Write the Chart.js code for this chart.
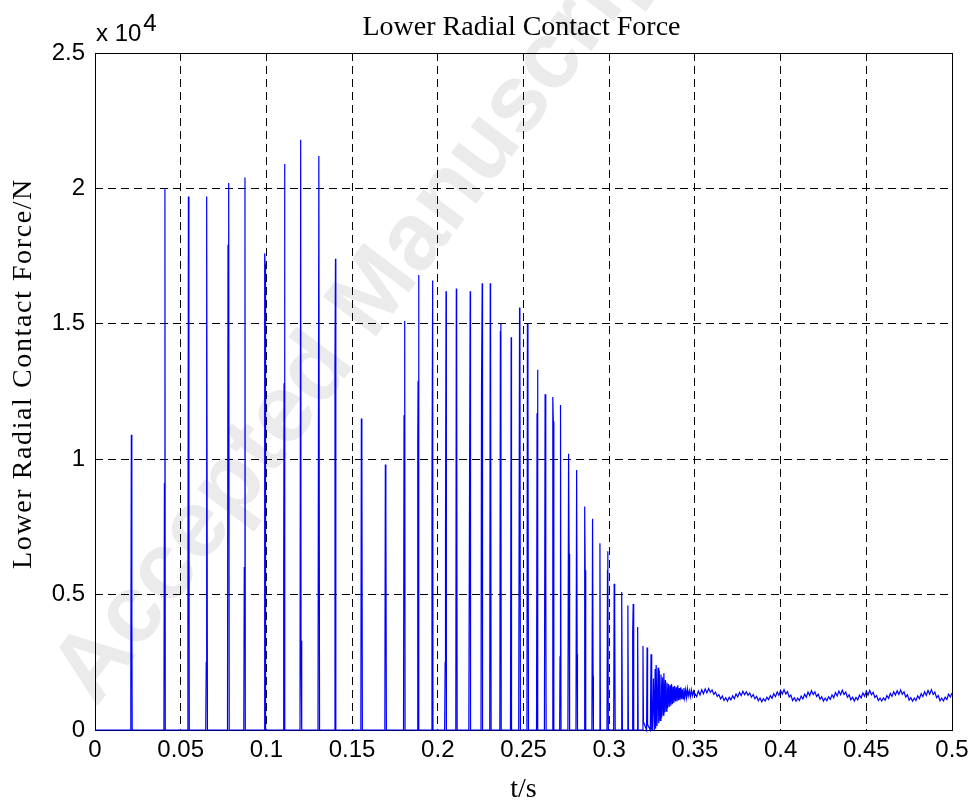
<!DOCTYPE html>
<html><head><meta charset="utf-8">
<script src="https://cdn.jsdelivr.net/npm/chart.js@4.4.1/dist/chart.umd.min.js"></script>
<style>html,body{margin:0;padding:0;background:#fff;}#wrap{width:975px;height:803px;}</style>
</head><body><div id="wrap"><canvas id="c" width="975" height="803"></canvas></div>
<script>
const chartTitle = 'Lower Radial Contact Force';
const xAxisTitle = 't/s';
const yAxisTitle = 'Lower Radial Contact Force/N';
const yScaleNote = 'x 10';
const yScaleExp = '4';
const watermarkText = 'Accepted Manuscript';
const xTickValues = [0,0.05,0.1,0.15,0.2,0.25,0.3,0.35,0.4,0.45,0.5];
const xTickLabels = ['0','0.05','0.1','0.15','0.2','0.25','0.3','0.35','0.4','0.45','0.5'];
const yTickValues = [0,5000,10000,15000,20000,25000];
const yTickLabels = ['0','0.5','1','1.5','2','2.5'];

// impact spikes (time s, force N)
const spikeTime = [0,
 0.0205,0.0208,0.0210,0.0212,0.0215,0.0217,
 0.0402,0.0405,0.0408,0.0410,
 0.0539,0.0542,0.0545,0.0548,0.0550,
 0.0646,0.0649,0.0650,0.0653,0.0656,
 0.0773,0.0776,0.0780,0.0783,
 0.0868,0.0871,0.0875,0.0877,
 0.0987,0.0990,0.0993,0.0995,
 0.1099,0.1101,0.1103,0.1106,0.1108,
 0.1196,0.1200,0.1202,0.1205,0.1207,
 0.1301,0.1306,0.1310,
 0.1397,0.1400,0.1403,0.1405,
 0.1551,0.1554,0.1557,0.1560,
 0.1691,0.1694,0.1697,0.1700,
 0.1800,0.1803,0.1807,0.1809,
 0.1880,0.1883,0.1885,0.1888,0.1890,
 0.1963,0.1966,0.1970,0.1972,
 0.2040,0.2043,0.2045,0.2048,0.2050,
 0.2105,0.2108,0.2110,0.2113,
 0.2181,0.2185,0.2189,0.2191,
 0.2252,0.2255,0.2259,0.2261,
 0.2303,0.2306,0.2308,0.2311,
 0.2362,0.2365,0.2368,0.2370,
 0.2424,0.2428,0.2430,
 0.2472,0.2477,0.2479,0.2482,
 0.2520,0.2523,0.2526,0.2529,
 0.2576,0.2579,0.2582,0.2584,
 0.2622,0.2626,0.2630,0.2632,
 0.2667,0.2671,0.2674,0.2677,
 0.2711,0.2713,0.2716,0.2719,
 0.2759,0.2763,0.2766,0.2769,
 0.2806,0.2810,0.2813,0.2815,
 0.2853,0.2857,0.2860,0.2863,
 0.2899,0.2903,0.2906,0.2908,
 0.2942,0.2946,0.2949,
 0.2987,0.2990,0.2992,0.2995,
 0.3026,0.3029,0.3032,0.3035,
 0.3069,0.3072,0.3074,0.3077,
 0.3106,0.3109,0.3112,
 0.3135,0.3137,0.3140,0.3143,
 0.3163,0.3166,0.3169,
 0.3194,0.3197,0.3200,
 0.3218,0.3221,0.3224,
 0.3240,0.3244,0.3248];
const spikeForce = [0,
 0,2000,2000,10900,4200,0,
 0,9100,20000,0,
 0,4100,19700,9300,0,
 0,2500,5200,19700,0,
 0,17900,20200,0,
 0,6000,20400,0,
 0,17600,17200,0,
 0,6300,12800,20900,0,
 0,21800,3300,3300,0,
 0,21200,0,
 0,13400,17400,0,
 0,11500,10100,0,
 0,9800,8200,0,
 0,11600,15100,0,
 0,10700,12900,16800,0,
 0,9200,16600,0,
 0,2500,7100,16200,0,
 0,16300,14200,0,
 0,8600,16200,0,
 0,12600,16500,0,
 0,16500,15200,0,
 0,14700,15000,0,
 0,14500,0,
 0,15600,14900,0,
 0,15000,12400,0,
 0,11700,13300,0,
 0,12400,5600,0,
 0,12300,11400,0,
 0,2700,12000,0,
 0,10200,6500,0,
 0,9600,2800,0,
 0,8250,5900,0,
 0,7800,2000,0,
 0,6900,0,
 0,5900,6600,0,
 0,5400,4400,0,
 0,3800,5100,0,
 0,4600,0,
 0,3600,4650,0,
 0,3800,0,
 0,3100,300,
 0,3050,200,
 0,2800,0];

// damped ringing after the last impacts
const ringTime = [0.3252,0.3258,0.3263,0.3268,0.3271,0.3274,0.3279,0.3285,0.3289,0.3292,
 0.3297,0.3302,0.3306,0.3311,0.3315,0.3319,0.3323,0.3328,0.3332,0.3337,
 0.3341,0.3346,0.3350,0.3355,0.3359,0.3364,0.3368,0.3373,0.3377,0.3382,
 0.3386,0.3391,0.3395,0.3400,0.3404,0.3409,0.3413,0.3418,0.3422,0.3427,
 0.3431,0.3436,0.3441,0.3446,0.3451,0.3456,0.3461,0.3467,0.3473,0.3479,
 0.3485,0.3491,0.3497];
const ringForce = [0,1900,0,2250,50,2400,150,2300,250,2200,
 350,2050,450,1950,550,2100,650,1850,700,1750,
 800,1700,850,1650,900,1700,950,1600,1000,1620,
 1050,1580,1050,1650,1100,1550,1100,1580,1150,1500,
 1150,1550,1200,1480,1200,1520,1250,1450,1220,1480,
 1260,1430,1280];

// steady-state contact force, sampled every 1 ms from 0.35 s
const steadyStart = 0.35;
const steadyStep = 0.001;
const steadyForce = [
 1350,1230,1440,1290,1490,1340,1520,1370,1530,1390,
 1480,1320,1400,1240,1310,1150,1250,1090,1190,1070,
 1210,1110,1260,1160,1330,1220,1390,1270,1430,1300,
 1410,1280,1370,1210,1310,1150,1240,1080,1180,1040,
 1160,1070,1210,1120,1270,1170,1340,1230,1400,1280,
 1460,1320,1490,1330,1420,1220,1290,1090,1190,1060,
 1180,1090,1250,1150,1320,1210,1400,1270,1450,1310,
 1410,1240,1320,1140,1230,1070,1180,1080,1230,1130,
 1300,1190,1380,1260,1440,1300,1470,1310,1400,1210,
 1300,1110,1210,1070,1200,1110,1290,1190,1370,1250,
 1430,1290,1460,1300,1390,1200,1270,1090,1180,1070,
 1190,1100,1270,1170,1350,1240,1410,1290,1450,1310,
 1480,1320,1410,1220,1300,1100,1190,1060,1180,1090,
 1260,1160,1340,1230,1410,1280,1460,1320,1490,1310,
 1400,1190,1270,1080,1180,1070,1210,1130,1320,1220,
 1370];

const points = [];
spikeTime.forEach((t,i)=>points.push({x:t,y:spikeForce[i]}));
ringTime.forEach((t,i)=>points.push({x:t,y:ringForce[i]}));
steadyForce.forEach((f,i)=>points.push({x:+(steadyStart+i*steadyStep).toFixed(4),y:f}));

const decor = {
  id:'decor',
  beforeDraw(chart){
    const ctx = chart.ctx;
    ctx.save();
    ctx.fillStyle = '#fff';
    ctx.fillRect(0,0,chart.width,chart.height);
    ctx.translate(96,708);
    ctx.rotate(-53*Math.PI/180);
    ctx.font = 'bold 96px "Liberation Sans"';
    ctx.fillStyle = '#ebebeb';
    ctx.textAlign = 'left';
    ctx.textBaseline = 'alphabetic';
    ctx.fillText(watermarkText,0,0);
    ctx.restore();
  },
  beforeDatasetsDraw(chart){
    const {ctx, chartArea:a} = chart;
    ctx.save();
    ctx.strokeStyle = '#000';
    ctx.lineWidth = 1;
    ctx.setLineDash([]);
    const l = Math.round(a.left)+0.5, t = Math.round(a.top)+0.5;
    ctx.strokeRect(l, t, Math.round(a.right)-Math.round(a.left), Math.round(a.bottom)-Math.round(a.top));
    ctx.restore();
  },
  afterDraw(chart){
    const {ctx, chartArea:a} = chart;
    const cx = (a.left+a.right)/2;
    ctx.save();
    ctx.fillStyle = '#000';
    ctx.font = '28px "Liberation Serif"';
    ctx.textAlign = 'center';
    ctx.textBaseline = 'alphabetic';
    ctx.fillText(chartTitle, cx-2, 35);
    ctx.fillText(xAxisTitle, cx, 797);
    ctx.save();
    ctx.translate(31,(a.top+a.bottom)/2 - 18);
    ctx.rotate(-Math.PI/2);
    ctx.letterSpacing = '1.6px';
    ctx.fillText(yAxisTitle,0,0);
    ctx.restore();
    ctx.font = '24px "Liberation Sans"';
    ctx.textAlign = 'left';
    ctx.fillText(yScaleNote, a.left + 1, 41);
    const w = ctx.measureText(yScaleNote).width;
    ctx.fillText(yScaleExp, a.left + w + 3, 31);
    ctx.restore();
  }
};

new Chart(document.getElementById('c').getContext('2d'), {
  type:'line',
  data:{datasets:[{data:points, borderColor:'#0000ff', borderWidth:1.2, pointRadius:0, fill:false, tension:0, clip:false}]},
  options:{
    responsive:false, animation:false, devicePixelRatio:1,
    layout:{padding:{left:0,right:23,top:53,bottom:0}},
    plugins:{legend:{display:false}, tooltip:{enabled:false}, title:{display:false}},
    scales:{
      x:{type:'linear', min:0, max:0.5,
        afterBuildTicks(s){ s.ticks = xTickValues.map(v=>({value:v})); },
        ticks:{callback:(v,i)=>xTickLabels[i], font:{family:'Liberation Sans', size:24}, color:'#000', maxRotation:0, autoSkip:false, padding:6},
        grid:{color:'#000', lineWidth:1, drawTicks:false},
        border:{display:false, dash:[8,5]},
        afterFit(s){ s.height = 73; }
      },
      y:{type:'linear', min:0, max:25000,
        afterBuildTicks(s){ s.ticks = yTickValues.map(v=>({value:v})); },
        ticks:{callback:(v,i)=>yTickLabels[i], font:{family:'Liberation Sans', size:24}, color:'#000', padding:10},
        grid:{color:'#000', lineWidth:1, drawTicks:false},
        border:{display:false, dash:[8,5]},
        afterFit(s){ s.width = 95; }
      }
    }
  },
  plugins:[decor]
});
</script></body></html>
